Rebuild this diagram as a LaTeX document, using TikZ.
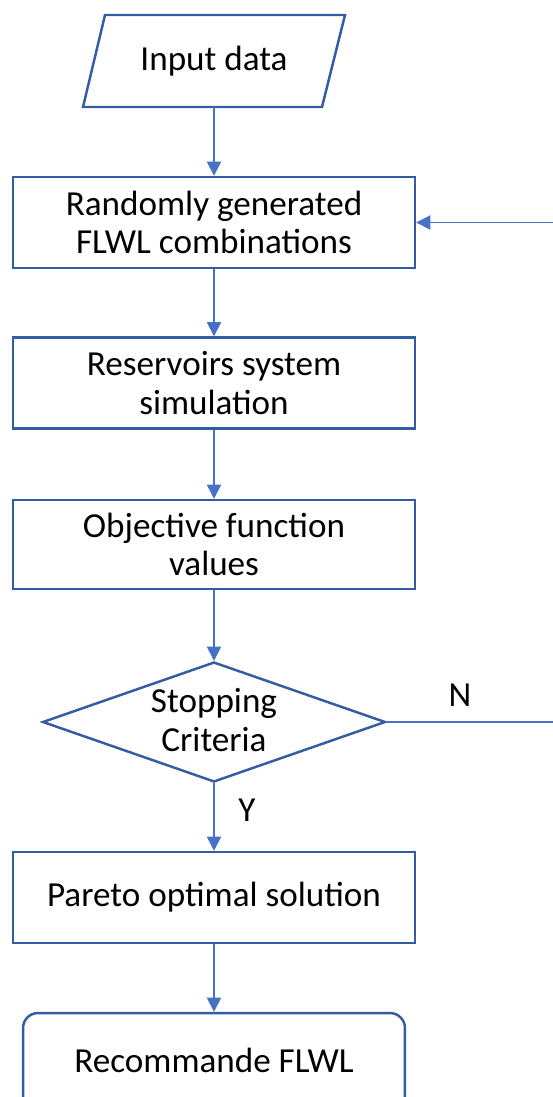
\documentclass[tikz,border=0pt]{standalone}
\usepackage{fontspec}
\setmainfont{Carlito}
\usetikzlibrary{shapes.geometric,arrows.meta,calc}
\definecolor{boxblue}{RGB}{52,92,165}
\definecolor{lineblue}{RGB}{68,114,196}
\tikzset{
  every node/.style={font=\fontsize{20}{22}\selectfont, text=black, align=center},
  procbox/.style={draw=boxblue, line width=1.4pt, rectangle, minimum width=8.04cm, minimum height=1.82cm, inner sep=0pt},
  decbox/.style={draw=boxblue, line width=1.4pt, diamond, aspect=2.86, minimum width=6.86cm, minimum height=2.4cm, inner sep=0pt},
  endbox/.style={draw=boxblue, line width=1.4pt, rectangle, rounded corners=0.3cm, minimum width=7.64cm, minimum height=2cm, inner sep=0pt},
  conn/.style={draw=lineblue, line width=1pt, -{Triangle[length=8pt,width=8pt]}},
  plainconn/.style={draw=lineblue, line width=1pt}
}
\begin{document}
\begin{tikzpicture}[x=0.02cm,y=-0.02cm]
\useasboundingbox (0,0) rectangle (552,1097);
% input parallelogram
\node[minimum width=4.8cm, minimum height=1.84cm, inner sep=0pt] (input) at (214,61) {Input data};
\draw[boxblue, line width=1.4pt] (105,15) -- (345,15) -- (322,107) -- (83,107) -- cycle;
\node[procbox] (gen) at (214,222.5) {Randomly generated\\FLWL combinations};
\node[procbox] (sim) at (214,383) {Reservoirs system\\simulation};
\node[procbox, minimum height=1.78cm] (obj) at (214,544.5) {Objective function\\values};
\node[decbox] (stop) at (214,722) {};
\node at (214,720) {Stopping\\Criteria};
\node[procbox] (par) at (214,897.5) {Pareto optimal solution};
\node[endbox] (rec) at (214,1063) {};
\node (rectext) at (214,1060) {Recommande FLWL};
\coordinate (loopb) at (556,722);
\coordinate (loopt) at (556,222.5);
\draw[conn] (input.south) -- (gen.north);
\draw[conn] (gen.south) -- (sim.north);
\draw[conn] (sim.south) -- (obj.north);
\draw[conn] (obj.south) -- (stop.north);
\draw[conn] (stop.south) -- (par.north);
\draw[conn] (par.south) -- (rec.north);
\draw[plainconn] (stop.east) -- (loopb) -- (loopt);
\draw[conn] (loopt) -- (gen.east);
\node (nlab) at (460,695) {N};
\node (ylab) at (247,810) {Y};
\end{tikzpicture}
\end{document}
